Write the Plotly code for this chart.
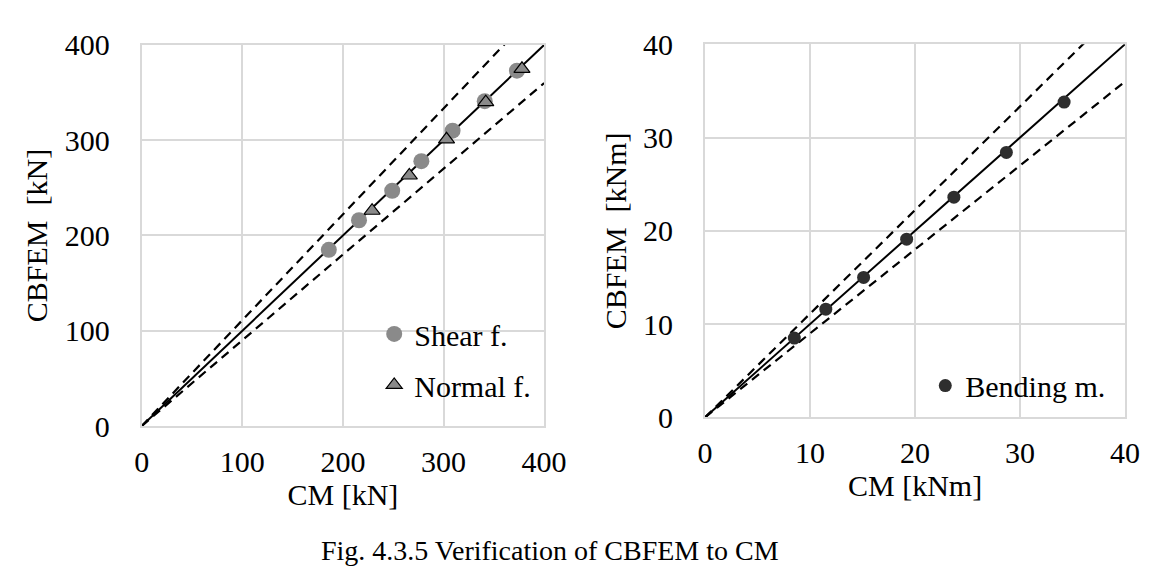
import plotly.graph_objects as go

# ---- data ----
shear_cm = [186, 216, 249, 278, 309, 341, 373]
shear_cbfem = [185, 216, 247, 278, 310, 341, 373]
normal_cm = [229, 266, 303, 342, 378]
normal_cbfem = [226, 263, 301, 340, 375]
bend_cm = [8.5, 11.5, 15.1, 19.2, 23.7, 28.7, 34.2]
bend_cbfem = [8.5, 11.6, 15.0, 19.1, 23.6, 28.4, 33.8]

force_line = [0, 400]
moment_line = [0, 40]
upper_ratio = 1 / 0.9
lower_ratio = 0.9

force_ticks = [0, 100, 200, 300, 400]
moment_ticks = [0, 10, 20, 30, 40]

FONT = "Liberation Serif"
GRID = "#d9d9d9"

fig = go.Figure()

def ref_lines(xs, xa, ya):
    fig.add_trace(go.Scatter(x=xs, y=xs, mode="lines", line=dict(color="black", width=2),
                             showlegend=False, xaxis=xa, yaxis=ya, hoverinfo="skip"))
    fig.add_trace(go.Scatter(x=xs, y=[v * upper_ratio for v in xs], mode="lines",
                             line=dict(color="black", width=2.2, dash="9px,6px"),
                             showlegend=False, xaxis=xa, yaxis=ya, hoverinfo="skip"))
    fig.add_trace(go.Scatter(x=xs, y=[v * lower_ratio for v in xs], mode="lines",
                             line=dict(color="black", width=2.2, dash="9px,6px"),
                             showlegend=False, xaxis=xa, yaxis=ya, hoverinfo="skip"))

ref_lines(force_line, "x", "y")
fig.add_trace(go.Scatter(x=shear_cm, y=shear_cbfem, mode="markers", name="Shear f.",
                         marker=dict(symbol="circle", size=16, color="#8a8a8a"),
                         xaxis="x", yaxis="y", legend="legend", legendgroup="s"))
fig.add_trace(go.Scatter(x=normal_cm, y=normal_cbfem, mode="markers", name="Normal f.",
                         marker=dict(symbol="triangle-up", size=14, color="#8a8a8a",
                                     line=dict(color="black", width=1.2)),
                         xaxis="x", yaxis="y", legend="legend", legendgroup="n"))

ref_lines(moment_line, "x2", "y2")
fig.add_trace(go.Scatter(x=bend_cm, y=bend_cbfem, mode="markers", name="Bending m.",
                         marker=dict(symbol="circle", size=13, color="#2e2e2e"),
                         xaxis="x2", yaxis="y2", legend="legend2"))

tickfont = dict(family=FONT, size=30, color="black")
titlefont = dict(family=FONT, size=30, color="black")

def axis(domain, rng, ticks, title, anchor, is_y):
    return dict(domain=domain, range=rng, tickvals=ticks, ticktext=[str(t) for t in ticks],
                showgrid=True, gridcolor=GRID, gridwidth=2, showline=True, linecolor=GRID,
                linewidth=2, mirror=True, zeroline=False, ticks="", tickfont=tickfont,
                ticklabelstandoff=24 if is_y else 8, automargin=False,
                title=dict(text=title, font=titlefont, standoff=8 if is_y else 2),
                anchor=anchor, fixedrange=True)

fig.update_layout(
    width=1170, height=588,
    margin=dict(l=0, r=0, t=0, b=0),
    paper_bgcolor="white", plot_bgcolor="white",
    font=dict(family=FONT, color="black"),
    xaxis=axis([0.1143, 0.4582], [0, 400], force_ticks, "CM [kN]", "y", False),
    yaxis=axis([0.2891, 0.9371], [0, 400], force_ticks, "CBFEM  [kN]", "x", True),
    xaxis2=axis([0.5958, 0.9547], [0, 40], moment_ticks, "CM [kNm]", "y2", False),
    yaxis2=axis([0.3039, 0.9383], [0, 40], moment_ticks, "CBFEM  [kNm]", "x2", True),
    legend=dict(x=0.313, y=0.49, xanchor="left", yanchor="top", bgcolor="rgba(0,0,0,0)",
                font=dict(family=FONT, size=30, color="black"), tracegroupgap=9,
                traceorder="grouped", itemsizing="trace"),
    legend2=dict(x=0.784, y=0.402, xanchor="left", yanchor="top", bgcolor="rgba(0,0,0,0)",
                 font=dict(family=FONT, size=30, color="black"), itemsizing="trace"),
    annotations=[dict(text="Fig. 4.3.5 Verification of CBFEM to CM", x=0.463,
                      y=(588 - 542) / 588, yanchor="middle",
                      xref="paper", yref="paper", showarrow=False,
                      font=dict(family=FONT, size=28, color="black"))],
)

fig.write_html("out.html")
